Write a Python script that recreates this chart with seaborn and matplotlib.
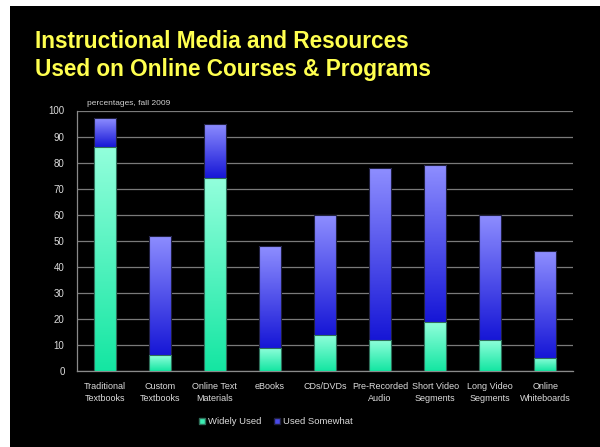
import pandas as pd
import seaborn as sns
import matplotlib.pyplot as plt
import numpy as np
from matplotlib.colors import LinearSegmentedColormap
from matplotlib.patches import Rectangle
from matplotlib.lines import Line2D

# data (percentages, fall 2009)
categories = ['Traditional\nTextbooks', 'Custom\nTextbooks', 'Online Text\nMaterials', 'eBooks',
              'CDs/DVDs', 'Pre-Recorded\nAudio', 'Short Video\nSegments', 'Long Video\nSegments',
              'Online\nWhiteboards']
widely_used = [86, 6, 74, 9, 14, 12, 19, 12, 5]
used_somewhat = [11, 46, 21, 39, 46, 66, 60, 48, 41]

df = pd.DataFrame({'category': categories, 'widely': widely_used, 'somewhat': used_somewhat})
df['total'] = df['widely'] + df['somewhat']

sns.set_style("dark")
plt.rcParams['font.family'] = ['Liberation Sans', 'DejaVu Sans']

fig = plt.figure(figsize=(6, 4.47), dpi=100, facecolor='white')
# black slide background with the thin white margin at top/left
fig.patches.append(Rectangle((10 / 600, 0), 1, 441 / 447, transform=fig.transFigure,
                             facecolor='black', edgecolor='none', zorder=-5))
ax = fig.add_axes([77 / 600, 1 - 371 / 447, 496 / 600, 260.5 / 447])
ax.set_facecolor('black')

# stacked bars: totals first, widely used drawn over them
sns.barplot(data=df, x='category', y='total', color='#4a4ae8', width=0.4, ax=ax,
            edgecolor='#202040', linewidth=0.8, zorder=2)
sns.barplot(data=df, x='category', y='widely', color='#3cefb4', width=0.4, ax=ax,
            edgecolor='#2f6f5a', linewidth=0.8, zorder=3)

# gradient fills clipped to the bars
green_cmap = LinearSegmentedColormap.from_list('g', ['#14e6a2', '#93ffdc'])
blue_cmap = LinearSegmentedColormap.from_list('b', ['#1616d6', '#8e8eff'])
grad = np.linspace(0, 1, 256).reshape(-1, 1)
n = len(categories)
for i, p in enumerate(ax.patches[:2 * n]):
    x0 = p.get_x()
    x1 = x0 + p.get_width()
    if i < n:
        y0, y1, cmap = df['widely'][i], df['total'][i], blue_cmap
    else:
        y0, y1, cmap = 0, df['widely'][i - n], green_cmap
    im = ax.imshow(grad, extent=[x0, x1, y0, y1], origin='lower', cmap=cmap,
                   aspect='auto', zorder=p.get_zorder() + 0.5, interpolation='bilinear')
    im.set_clip_path(p)
    p.set_facecolor('none')
    p.set_zorder(p.get_zorder() + 0.6)

ax.set_xlim(-0.5, n - 0.5)
ax.set_ylim(0, 100)
ax.set_yticks(range(0, 101, 10))
ax.set_xlabel('')
ax.set_ylabel('')
ax.grid(axis='y', color='#7a7a7a', linewidth=0.9, zorder=0)
ax.grid(axis='x', visible=False)
ax.set_axisbelow(True)
for side in ['top', 'right']:
    ax.spines[side].set_visible(False)
for side in ['left', 'bottom']:
    ax.spines[side].set_visible(True)
    ax.spines[side].set_color('#8a8a8a')
    ax.spines[side].set_linewidth(0.9)

ax.set_xticks(np.arange(-0.5, n, 1), minor=True)
ax.tick_params(axis='x', which='major', length=0, pad=8, labelsize=6.5, colors='#dcdcdc')
ax.tick_params(axis='x', which='minor', length=4, color='#8a8a8a', direction='out')
ax.tick_params(axis='y', length=4, direction='out', labelsize=7, pad=5,
               colors='#8a8a8a', labelcolor='#dcdcdc')
for lab in ax.get_xticklabels():
    lab.set_linespacing(1.35)

ax.text(0.02, 1.012, 'percentages, fall 2009', transform=ax.transAxes, fontsize=6,
        color='#d0d0d0', va='bottom', ha='left')

fig.text(35 / 600, 1 - 30.5 / 447, 'Instructional Media and Resources\nUsed on Online Courses & Programs',
         fontsize=16.3, fontweight='bold', color='#ffff4f', va='top', ha='left',
         linespacing=1.25)

handles = [Line2D([], [], marker='s', linestyle='none', markersize=5,
                  markerfacecolor='#3cefb4', markeredgecolor='#2f6f5a'),
           Line2D([], [], marker='s', linestyle='none', markersize=5,
                  markerfacecolor='#4a4ae8', markeredgecolor='#202040')]
leg = fig.legend(handles, ['Widely Used', 'Used Somewhat'], loc='center',
                 bbox_to_anchor=(275 / 600, 1 - 422 / 447), ncol=2, frameon=False,
                 fontsize=6.8, handletextpad=0.1, columnspacing=1.2, handlelength=1)
for t in leg.get_texts():
    t.set_color('#dcdcdc')

fig.savefig('out.png', dpi=100, facecolor=fig.get_facecolor())
